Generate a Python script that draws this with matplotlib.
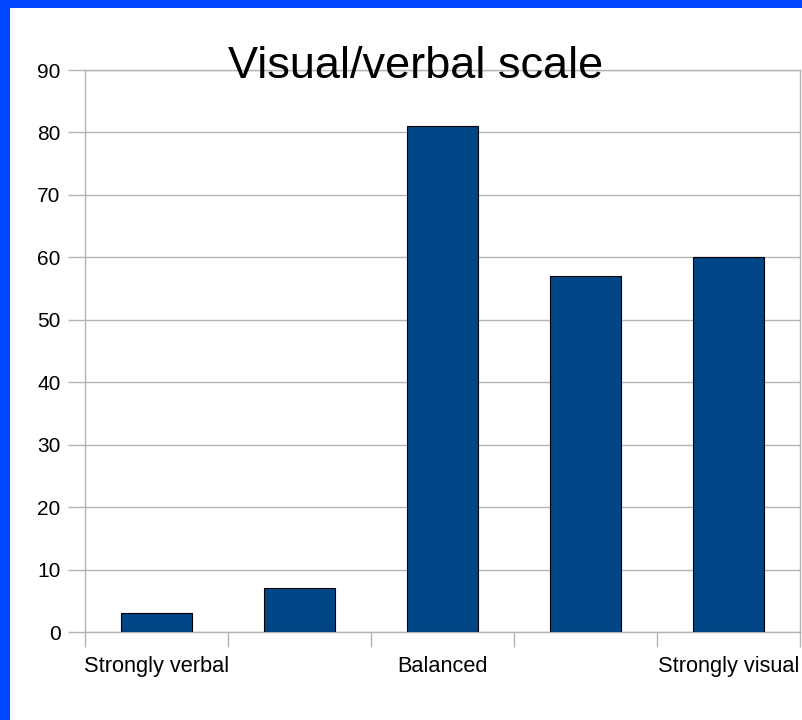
import matplotlib
matplotlib.use('Agg')
import matplotlib.pyplot as plt
from matplotlib.patches import Rectangle

# Значения шкалы
categories = ['Strongly verbal', '', 'Balanced', '', 'Strongly visual']
counts = [3, 7, 81, 57, 60]
y_ticks = [0, 10, 20, 30, 40, 50, 60, 70, 80, 90]

plt.rcParams['font.family'] = ['Liberation Sans', 'DejaVu Sans']

fig = plt.figure(figsize=(8.02, 7.2), dpi=100)
fig.patch.set_facecolor('white')

# Синяя рамка слева и сверху
fig.patches.append(Rectangle((0, 0), 10 / 802, 1, transform=fig.transFigure,
                             facecolor='#0047ff', edgecolor='none', zorder=0))
fig.patches.append(Rectangle((0, 1 - 8 / 720), 1, 8 / 720, transform=fig.transFigure,
                             facecolor='#0047ff', edgecolor='none', zorder=0))

ax = fig.add_axes([85 / 802, 88 / 720, 715 / 802, 562 / 720])
grid_color = '#b3b3b3'

x = list(range(len(counts)))
ax.bar(x, counts, width=0.5, color='#004586', edgecolor='black', linewidth=0.8, zorder=3)

ax.set_xlim(-0.5, len(counts) - 0.5)
ax.set_ylim(0, 90)
ax.set_yticks(y_ticks)
ax.yaxis.grid(True, color=grid_color, linewidth=1, zorder=0)

ax.set_xticks(x)
ax.set_xticklabels(categories, fontsize=15.7)
ax.set_xticks([i - 0.5 for i in range(len(counts) + 1)], minor=True)
ax.tick_params(axis='x', which='major', length=0, pad=17)
ax.tick_params(axis='x', which='minor', length=11, color=grid_color, width=1)
ax.tick_params(axis='y', length=12, color=grid_color, width=1, labelsize=15, pad=5.5)

for side in ['left', 'bottom', 'right', 'top']:
    ax.spines[side].set_color(grid_color)
    ax.spines[side].set_linewidth(1)

fig.text(416 / 802, 1 - 78 / 720, 'Visual/verbal scale', fontsize=32.5,
         ha='center', va='baseline')

plt.savefig('out.png', dpi=100)
